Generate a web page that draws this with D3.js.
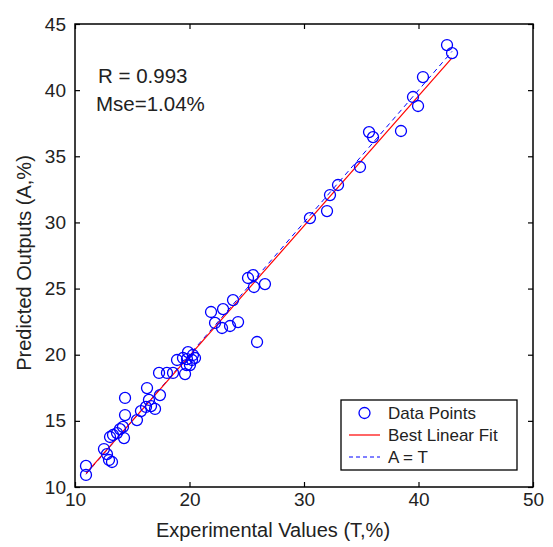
<!DOCTYPE html>
<html><head><meta charset="utf-8">
<script src="https://cdn.jsdelivr.net/npm/d3@7"></script>
<style>body{margin:0;background:#fff;}svg{display:block;font-family:Arial,"Liberation Sans",sans-serif;}</style>
</head><body>
<script>
const expT = [10.96,10.96,12.53,12.79,12.97,13.23,13.06,13.32,13.67,13.93,14.28,14.19,14.37,14.37,15.41,15.76,16.20,16.46,16.29,16.99,16.64,17.42,17.34,18.03,18.56,19.61,18.91,19.43,19.78,20.22,20.04,20.48,19.87,19.75,20.30,
21.88,22.23,22.84,22.93,23.54,24.24,23.80,25.11,25.55,25.63,26.59,25.90,
30.52,32.01,32.27,32.97,34.89,35.68,36.03,38.47,39.52,39.96,40.39,42.49,42.93];
const predA = [11.59,10.91,12.87,12.49,12.04,11.89,13.78,13.93,14.08,14.38,13.70,14.54,15.44,16.73,15.06,15.74,16.05,16.58,17.48,15.90,16.12,16.95,18.62,18.62,18.62,18.54,19.60,19.75,19.67,19.60,19.22,19.75,20.20,19.22,19.98,
23.23,22.40,22.02,23.45,22.17,22.47,24.13,25.80,26.02,25.12,25.34,20.96,
30.33,30.86,32.07,32.83,34.19,36.83,36.45,36.91,39.48,38.80,40.99,43.41,42.80];
const xTicks = [10,20,30,40,50];
const yTicks = [10,15,20,25,30,35,40,45];
const legendLabels = ["Data Points","Best Linear Fit","A = T"];
const annotations = ["R = 0.993","Mse=1.04%"];

const W=553,H=547, L=75,R=533,T=24,B=487;
const FONT="Arial,'Liberation Sans',sans-serif", TXT="#222";
const svg=d3.select("body").append("svg").attr("width",W).attr("height",H);
const x=d3.scaleLinear().domain([10,50]).range([L,R]);
const y=d3.scaleLinear().domain([10,45]).range([B,T]);

// least-squares fit of the data
const n=expT.length, mx=d3.mean(expT), my=d3.mean(predA);
let sxy=0,sxx=0; for(let i=0;i<n;i++){sxy+=(expT[i]-mx)*(predA[i]-my);sxx+=(expT[i]-mx)**2;}
const slope=sxy/sxx, icpt=my-slope*mx;
const tMin=d3.min(expT), tMax=d3.max(expT);

svg.append("rect").attr("x",L).attr("y",T).attr("width",R-L).attr("height",B-T).attr("fill","#fff");

svg.append("line").attr("x1",x(tMin)).attr("y1",y(tMin)).attr("x2",x(tMax)).attr("y2",y(tMax))
  .attr("stroke","#0000ff").attr("stroke-width",1).attr("stroke-dasharray","5,4");
svg.append("line").attr("x1",x(tMin)).attr("y1",y(slope*tMin+icpt)).attr("x2",x(tMax)).attr("y2",y(slope*tMax+icpt))
  .attr("stroke","#ff0000").attr("stroke-width",1.2);
svg.append("g").selectAll("circle").data(expT).join("circle")
  .attr("cx",d=>x(d)).attr("cy",(d,i)=>y(predA[i])).attr("r",5.5)
  .attr("fill","none").attr("stroke","#0000ff").attr("stroke-width",1.3);

svg.append("rect").attr("x",L).attr("y",T).attr("width",R-L).attr("height",B-T).attr("fill","none").attr("stroke","#000").attr("stroke-width",1.5);

const tickLen=5;
const gx=svg.append("g").attr("transform",`translate(0,${B})`).call(d3.axisBottom(x).tickValues(xTicks).tickSize(-tickLen).tickPadding(6));
const gxt=svg.append("g").attr("transform",`translate(0,${T})`).call(d3.axisTop(x).tickValues(xTicks).tickSize(-tickLen).tickFormat(""));
const gy=svg.append("g").attr("transform",`translate(${L},0)`).call(d3.axisLeft(y).tickValues(yTicks).tickSize(-tickLen).tickPadding(9));
const gyr=svg.append("g").attr("transform",`translate(${R},0)`).call(d3.axisRight(y).tickValues(yTicks).tickSize(-tickLen).tickFormat(""));
[gx,gxt,gy,gyr].forEach(g=>{g.select(".domain").remove();g.selectAll("line").attr("stroke","#000").attr("stroke-width",1.2);
  g.selectAll("text").attr("font-size",19).attr("fill",TXT).attr("font-family",FONT);});

svg.append("text").attr("x",273).attr("y",537).attr("text-anchor","middle").attr("font-size",20).attr("fill",TXT).text("Experimental Values (T,%)");
svg.append("text").attr("transform",`translate(31,263) rotate(-90)`).attr("text-anchor","middle").attr("font-size",20).attr("fill",TXT).text("Predicted Outputs (A,%)");

svg.append("text").attr("x",98).attr("y",83).attr("font-size",20.5).attr("fill",TXT).text(annotations[0]);
svg.append("text").attr("x",96).attr("y",111).attr("font-size",20.5).attr("fill",TXT).text(annotations[1]);

// legend
const lx0=341, ly0=400, lw=176, lh=70, tx=388;
svg.append("rect").attr("x",lx0).attr("y",ly0).attr("width",lw).attr("height",lh).attr("fill","#fff").attr("stroke","#000").attr("stroke-width",1.3);
const rows=[ly0+13,ly0+35,ly0+57];
svg.append("circle").attr("cx",(lx0+8+tx-8)/2).attr("cy",rows[0]).attr("r",5.5).attr("fill","none").attr("stroke","#0000ff").attr("stroke-width",1.3);
svg.append("line").attr("x1",lx0+8).attr("x2",tx-8).attr("y1",rows[1]).attr("y2",rows[1]).attr("stroke","#ff0000").attr("stroke-width",1.2);
svg.append("line").attr("x1",lx0+8).attr("x2",tx-8).attr("y1",rows[2]).attr("y2",rows[2]).attr("stroke","#0000ff").attr("stroke-width",1).attr("stroke-dasharray","4,3");
legendLabels.forEach((t,i)=>svg.append("text").attr("x",tx).attr("y",rows[i]+6).attr("font-size",17).attr("fill",TXT).text(t));
</script>
</body></html>
